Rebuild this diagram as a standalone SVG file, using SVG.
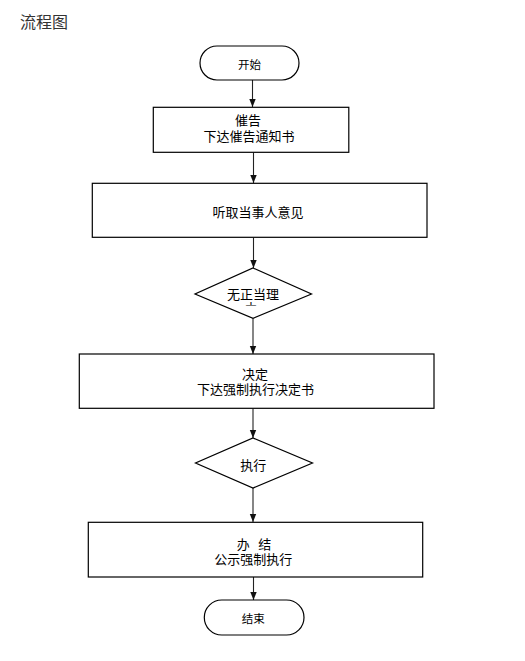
<svg xmlns="http://www.w3.org/2000/svg" width="525" height="661" viewBox="0 0 525 661">
<style>
.shape{fill:#fff;stroke:#000;stroke-width:1.2}
.conn{fill:none;stroke:#222;stroke-width:1.1}
text{font-family:"Noto Sans CJK SC","Noto Sans",sans-serif;fill:#000;text-anchor:middle;dominant-baseline:central}
.t13{font-size:13px}
.t11{font-size:11.5px}
</style>
<defs>
<marker id="ah" markerUnits="userSpaceOnUse" markerWidth="8" markerHeight="8" viewBox="0 0 8 8" refX="8" refY="4" orient="auto">
<path d="M0,0.8 L8,4 L0,7.2 Z" fill="#111"/>
</marker>
<clipPath id="dclip"><rect x="190" y="265" width="130" height="40.5"/></clipPath>
</defs>
<rect width="525" height="661" fill="#fff"/>
<text x="44" y="21" style="font-size:16px;fill:#333">流程图</text>
<g id="connectors">
<line class="conn" x1="252.5" y1="80" x2="252.5" y2="107" marker-end="url(#ah)"/>
<line class="conn" x1="253.5" y1="152.5" x2="253.5" y2="183" marker-end="url(#ah)"/>
<line class="conn" x1="253.5" y1="237.5" x2="253.5" y2="268" marker-end="url(#ah)"/>
<line class="conn" x1="253" y1="318.5" x2="253" y2="354" marker-end="url(#ah)"/>
<line class="conn" x1="253" y1="408.5" x2="253" y2="438" marker-end="url(#ah)"/>
<line class="conn" x1="253" y1="488" x2="253" y2="522" marker-end="url(#ah)"/>
<line class="conn" x1="253.5" y1="577" x2="253.5" y2="600" marker-end="url(#ah)"/>
</g>
<g id="start">
<rect class="shape" x="200" y="46" width="99" height="34" rx="17" ry="17"/>
<text class="t11" x="249.5" y="63.5">开始</text>
</g>
<g id="notice">
<rect class="shape" x="153.3" y="107.3" width="195.5" height="45"/>
<text class="t13" x="248" y="119">催告</text>
<text class="t13" x="249" y="135">下达催告通知书</text>
</g>
<g id="hearing">
<rect class="shape" x="92.3" y="183.3" width="334.7" height="54"/>
<text class="t13" x="258" y="211.5">听取当事人意见</text>
</g>
<g id="decision1">
<polygon class="shape" points="253,268 311.5,294 253,318.3 195,294"/>
<g clip-path="url(#dclip)">
<text class="t13" x="253" y="293.3">无正当理</text>
<text class="t13" x="251" y="307">由</text>
</g>
</g>
<g id="decide">
<rect class="shape" x="79.3" y="354" width="354.7" height="54.3"/>
<text class="t13" x="255" y="373">决定</text>
<text class="t13" x="255.5" y="388.5">下达强制执行决定书</text>
</g>
<g id="decision2">
<polygon class="shape" points="253,438 312.5,463 253,488 195.5,463"/>
<text class="t13" x="253.3" y="464">执行</text>
</g>
<g id="close">
<rect class="shape" x="88.3" y="522.3" width="334.4" height="54.7"/>
<text class="t13" x="254" y="543" style="white-space:pre">办   结</text>
<text class="t13" x="253.3" y="558.5">公示强制执行</text>
</g>
<g id="end">
<rect class="shape" x="204.3" y="600" width="99.7" height="35" rx="17.5" ry="17.5"/>
<text class="t11" x="253.3" y="617.7">结束</text>
</g>
</svg>
